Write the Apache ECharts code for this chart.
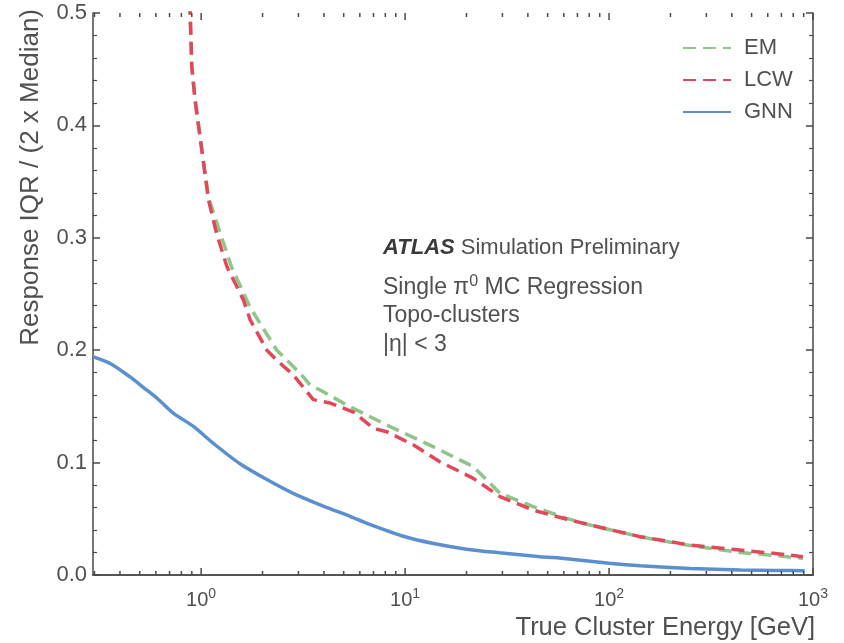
<!DOCTYPE html>
<html>
<head>
<meta charset="utf-8">
<script src="https://cdn.jsdelivr.net/npm/echarts@6/dist/echarts.min.js"></script>
<style>
  html, body { margin: 0; padding: 0; background: #ffffff; }
  #chart { width: 844px; height: 643px; }
</style>
</head>
<body>
<div id="chart"></div>
<script>
// Relative response width vs. true cluster energy for three calibrations
const FONT = "'Liberation Sans', Arial, Helvetica, sans-serif";
const TEXT = '#505050';
const AXIS = '#4a4a4a';

const xRange = [0.295, 1000];
const yTickValues = [0, 0.1, 0.2, 0.3, 0.4, 0.5];

// GNN regression (solid)
const gnnEnergy = [0.296, 0.36, 0.45, 0.52, 0.61, 0.73, 0.92, 1.15, 1.55, 2.1, 2.95, 4.0, 5.4, 6.5, 10, 13.8, 20, 29, 46, 62, 100, 142, 250, 440, 650, 910];
const gnnWidth  = [0.194, 0.188, 0.176, 0.167, 0.157, 0.144, 0.132, 0.117, 0.099, 0.085, 0.071, 0.061, 0.052, 0.046, 0.034, 0.028, 0.023, 0.0198, 0.0163, 0.0145, 0.0105, 0.0082, 0.0058, 0.0045, 0.0040, 0.0038];

// LCW calibration (dashed)
const lcwEnergy = [0.88, 0.9, 0.934, 1.008, 1.086, 1.19, 1.34, 1.61, 1.74, 2.1, 2.35, 2.83, 3.55, 4.29, 5.58, 7.0, 8.13, 11, 14.8, 21.6, 29.2, 42.4, 62, 80.7, 142, 249, 439, 637, 893];
const lcwWidth  = [0.51, 0.452, 0.4226, 0.378, 0.334, 0.304, 0.274, 0.245, 0.227, 0.200, 0.191, 0.178, 0.156, 0.153, 0.145, 0.1305, 0.1275, 0.1157, 0.1008, 0.086, 0.0697, 0.0578, 0.0496, 0.0445, 0.0341, 0.0267, 0.0222, 0.0193, 0.0163];

// EM scale (dashed)
const emEnergy = [0.88, 0.9, 0.934, 1.008, 1.086, 1.24, 1.41, 1.74, 2.35, 3.06, 3.42, 3.83, 5.37, 8.44, 13.8, 21.6, 29.2, 42.4, 62, 80.7, 142, 249, 439, 637, 893];
const emWidth  = [0.51, 0.452, 0.4226, 0.378, 0.336, 0.304, 0.274, 0.238, 0.200, 0.1794, 0.169, 0.1646, 0.1497, 0.132, 0.114, 0.0964, 0.0727, 0.0608, 0.0504, 0.0445, 0.034, 0.0262, 0.020, 0.0175, 0.0148];

const seriesNames = ['EM', 'LCW', 'GNN'];
const seriesColors = { EM: '#8dc58b', LCW: '#e2475a', GNN: '#5b8fd0' };

const zip = (xs, ys) => xs.map((x, i) => [x, ys[i]]);

// tick positions on the log energy axis: decades (major) and 2..9 (minor)
const xTicks = [];
for (let d = -1; d <= 3; d++) {
  for (let k = 1; k <= 9; k++) {
    const v = k * Math.pow(10, d);
    if (v >= xRange[0] * 0.999 && v <= xRange[1] * 1.001) xTicks.push([v, k === 1 ? 1 : 0]);
  }
}

const chart = echarts.init(document.getElementById('chart'), null, { renderer: 'canvas' });

const sideY = {
  type: 'value', min: 0, max: 0.5, interval: 0.1,
  axisLine: { show: true, lineStyle: { color: AXIS, width: 1.5 } },
  axisTick: { show: true, inside: true, length: 7, lineStyle: { color: AXIS, width: 1.5 } },
  minorTick: { show: true, splitNumber: 5, length: 4, lineStyle: { color: AXIS, width: 1.2 } },
  splitLine: { show: false }, minorSplitLine: { show: false }
};

chart.setOption({
  animation: false,
  backgroundColor: '#ffffff',
  grid: { left: 93, right: 31, top: 13, bottom: 68, containLabel: false },
  xAxis: [
    {
      type: 'log', logBase: 10, min: xRange[0], max: xRange[1],
      axisLine: { show: true, lineStyle: { color: AXIS, width: 1.5 } },
      axisTick: { show: false },
      splitLine: { show: false },
      axisLabel: {
        show: true, margin: 12, showMinLabel: true, showMaxLabel: true,
        formatter: (v) => {
          const e = Math.round(Math.log10(v));
          if (Math.abs(v - Math.pow(10, e)) / v > 1e-6) return '';
          return '{b|10}{s|' + e + '}';
        },
        rich: {
          b: { fontSize: 20, fontFamily: FONT, color: TEXT },
          s: { fontSize: 14, fontFamily: FONT, color: TEXT, padding: [0, 0, 12, 0] }
        }
      }
    },
    {
      type: 'log', logBase: 10, min: xRange[0], max: xRange[1], position: 'top',
      axisLine: { show: true, lineStyle: { color: AXIS, width: 1.5 } },
      axisTick: { show: false }, axisLabel: { show: false }, splitLine: { show: false }
    }
  ],
  yAxis: [
    Object.assign({}, sideY, {
      position: 'left',
      axisLabel: { show: true, margin: 6, fontSize: 22, fontFamily: FONT, color: TEXT, formatter: (v) => v.toFixed(1) }
    }),
    Object.assign({}, sideY, { position: 'right', axisLabel: { show: false } })
  ],
  legend: {
    data: seriesNames,
    orient: 'vertical',
    left: 677, top: 32,
    itemWidth: 48, itemHeight: 14, itemGap: 10,
    itemStyle: { opacity: 0 },
    textStyle: { fontSize: 22, fontFamily: FONT, color: TEXT, padding: [0, 0, 0, 8] },
    selectedMode: false
  },
  series: [
    {
      name: 'GNN', type: 'line', data: zip(gnnEnergy, gnnWidth),
      showSymbol: false, symbol: 'none', smooth: 0.25,
      lineStyle: { color: seriesColors.GNN, width: 3.5 }, itemStyle: { color: seriesColors.GNN }
    },
    {
      name: 'EM', type: 'line', data: zip(emEnergy, emWidth),
      showSymbol: false, symbol: 'none',
      lineStyle: { color: seriesColors.EM, width: 3.5, type: [13, 7] }, itemStyle: { color: seriesColors.EM }
    },
    {
      name: 'LCW', type: 'line', data: zip(lcwEnergy, lcwWidth),
      showSymbol: false, symbol: 'none',
      lineStyle: { color: seriesColors.LCW, width: 3.5, type: [13, 7] }, itemStyle: { color: seriesColors.LCW }
    },
    {
      // tick marks of the log energy axis, bottom and top frame
      name: 'xticks', type: 'custom', data: xTicks, silent: true, z: 5,
      encode: { x: 0, y: 1 },
      renderItem: (params, api) => {
        const v = api.value(0);
        const len = api.value(1) === 1 ? 7 : 4;
        const p = api.coord([v, 0]);
        const cs = params.coordSys;
        const st = { stroke: AXIS, lineWidth: 1.5 };
        return {
          type: 'group',
          children: [
            { type: 'line', shape: { x1: p[0], y1: cs.y + cs.height, x2: p[0], y2: cs.y + cs.height - len }, style: st },
            { type: 'line', shape: { x1: p[0], y1: cs.y, x2: p[0], y2: cs.y + len }, style: st }
          ]
        };
      }
    }
  ],
  graphic: [
    {
      type: 'text', x: 31, y: 9, rotation: Math.PI / 2,
      style: { text: 'Response IQR / (2 x Median)', fontSize: 26, fontFamily: FONT, fill: TEXT, align: 'right', verticalAlign: 'middle' }
    },
    {
      type: 'text', x: 815, y: 628,
      style: { text: 'True Cluster Energy [GeV]', fontSize: 25.5, fontFamily: FONT, fill: TEXT, align: 'right', verticalAlign: 'middle' }
    },
    {
      type: 'text', x: 383, y: 248,
      style: {
        text: '{b|ATLAS} Simulation Preliminary', fontSize: 22, fontFamily: FONT, fill: TEXT, verticalAlign: 'middle',
        rich: { b: { fontSize: 22, fontFamily: FONT, fontWeight: 'bold', fontStyle: 'italic', fill: '#3a3a3a' } }
      }
    },
    {
      type: 'text', x: 383, y: 288,
      style: {
        text: 'Single \u03c0{s|0} MC Regression', fontSize: 23, fontFamily: FONT, fill: TEXT, verticalAlign: 'middle',
        rich: { s: { fontSize: 16, fontFamily: FONT, fill: TEXT, padding: [0, 0, 12, 0] } }
      }
    },
    {
      type: 'text', x: 383, y: 316,
      style: { text: 'Topo-clusters', fontSize: 23, fontFamily: FONT, fill: TEXT, verticalAlign: 'middle' }
    },
    {
      type: 'text', x: 383, y: 345,
      style: { text: '|\u03b7| < 3', fontSize: 23, fontFamily: FONT, fill: TEXT, verticalAlign: 'middle' }
    }
  ]
});
</script>
</body>
</html>
